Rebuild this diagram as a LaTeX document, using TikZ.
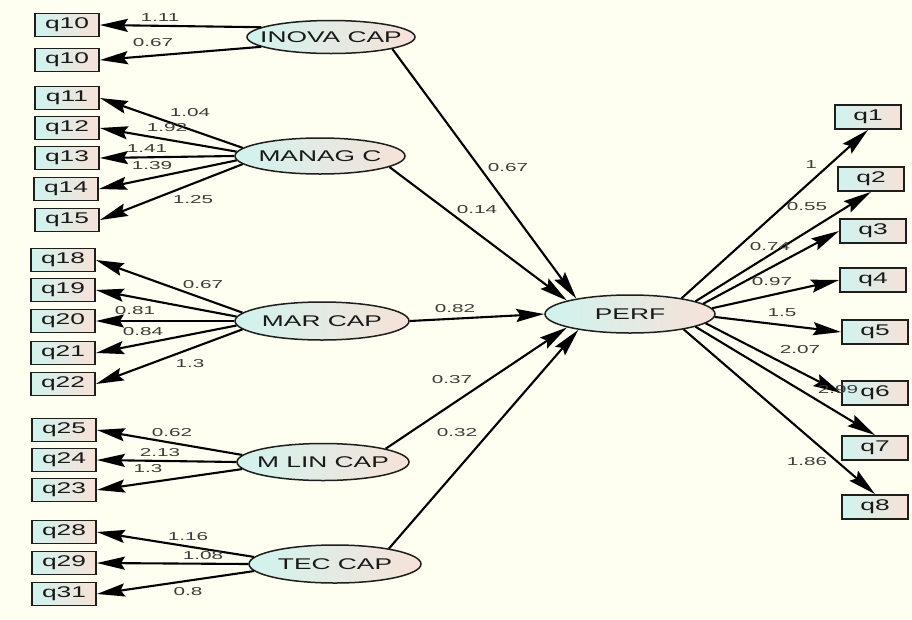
\documentclass[tikz,border=0pt]{standalone}
\usepackage{fontspec}
\usetikzlibrary{arrows.meta,shapes.geometric}
\newfontfamily\boxfont[FakeStretch=1.7]{Liberation Sans}
\newfontfamily\labfont[FakeStretch=1.8]{Liberation Sans}
\definecolor{bgcream}{RGB}{254,254,241}
\definecolor{cyanl}{RGB}{208,243,238}
\definecolor{pinkl}{RGB}{247,226,216}
\definecolor{edgec}{RGB}{30,30,30}
\definecolor{labc}{RGB}{60,60,60}
\tikzset{
  obs/.style={draw=edgec, line width=1.8pt, rectangle, left color=cyanl, right color=pinkl,
    minimum width=64pt, minimum height=23pt, inner sep=0pt, font=\boxfont\fontsize{15.5}{15.5}\selectfont, text=black!90},
  obsr/.style={obs, minimum width=66pt, minimum height=24pt},
  lat/.style={draw=edgec, line width=1.5pt, ellipse, left color=cyanl, right color=pinkl,
    inner sep=0pt, font=\boxfont\fontsize{15.5}{15.5}\selectfont, text=black!90},
  wt/.style={font=\labfont\fontsize{11.5}{11.5}\selectfont, text=labc, inner sep=0pt},
  conn/.style={line width=2.1pt, black, -{Stealth[length=28pt,width=13pt,inset=4pt]}}
}
\newcommand{\zt}[1]{\makebox[0pt][c]{#1}}
\begin{document}
\begin{tikzpicture}[x=1pt,y=-1pt]
\fill[bgcream] (0,0) rectangle (912,619);
\useasboundingbox (0,0) rectangle (912,619);

% latent variables
\node[lat, minimum width=168pt, minimum height=33pt] (inova) at (331,37) {\zt{INOVA CAP}};
\node[lat, minimum width=170pt, minimum height=36pt] (manag) at (320,156) {\zt{MANAG C}};
\node[lat, minimum width=174pt, minimum height=38pt] (mar) at (322,321) {\zt{MAR CAP}};
\node[lat, minimum width=172pt, minimum height=37pt] (mlin) at (323,462) {\zt{M LIN CAP}};
\node[lat, minimum width=172pt, minimum height=38pt] (tec) at (335,564) {\zt{TEC CAP}};
\node[lat, minimum width=170pt, minimum height=38pt] (perf) at (630,314) {\zt{PERF}};

% left observed
\node[obs] (q10a) at (67,25) {q10};
\node[obs] (q10b) at (67,60) {q10};
\node[obs] (q11) at (67,98) {q11};
\node[obs] (q12) at (67,128) {q12};
\node[obs] (q13) at (67,158) {q13};
\node[obs] (q14) at (66,189) {q14};
\node[obs] (q15) at (67,220) {q15};
\node[obs] (q18) at (63,260) {q18};
\node[obs] (q19) at (63,290) {q19};
\node[obs] (q20) at (63,321) {q20};
\node[obs] (q21) at (63,353) {q21};
\node[obs] (q22) at (63,384) {q22};
\node[obs] (q25) at (64,430) {q25};
\node[obs] (q24) at (64,460) {q24};
\node[obs] (q23) at (64,490) {q23};
\node[obs] (q28) at (64,532) {q28};
\node[obs] (q29) at (64,563) {q29};
\node[obs] (q31) at (64,594) {q31};

% right observed
\node[obsr] (q1) at (868,117) {q1};
\node[obsr] (q2) at (871,179) {q2};
\node[obsr] (q3) at (873,231) {q3};
\node[obsr] (q4) at (873,280) {q4};
\node[obsr] (q5) at (875,332) {q5};
\node[obsr] (q6) at (875,393) {q6};
\node[obsr] (q7) at (875,448) {q7};
\node[obsr] (q8) at (875,507) {q8};

% loadings left
\draw[conn] (inova.172) -- (q10a.east);
\draw[conn] (inova.188) -- (q10b.east);
\draw[conn] (manag.174) -- (q11.east);
\draw[conn] (manag.177) -- (q12.east);
\draw[conn] (manag.180) -- (q13.east);
\draw[conn] (manag.183) -- (q14.east);
\draw[conn] (manag.186) -- (q15.east);
\draw[conn] (mar.174) -- (q18.east);
\draw[conn] (mar.177) -- (q19.east);
\draw[conn] (mar.180) -- (q20.east);
\draw[conn] (mar.183) -- (q21.east);
\draw[conn] (mar.186) -- (q22.east);
\draw[conn] (mlin.175) -- (q25.east);
\draw[conn] (mlin.180) -- (q24.east);
\draw[conn] (mlin.185) -- (q23.east);
\draw[conn] (tec.175) -- (q28.east);
\draw[conn] (tec.180) -- (q29.east);
\draw[conn] (tec.185) -- (q31.east);

% structural paths
\draw[conn] (inova.-11) -- (perf.164);
\draw[conn] (manag.-9) -- (perf.168);
\draw[conn] (mar.east) -- (perf.west);
\draw[conn] (mlin.12) -- (perf.192);
\draw[conn] (tec.16) -- (perf.197);

% loadings right
\draw[conn] (perf.17) -- (q1.south);
\draw[conn] (perf.11.5) -- (q2.south);
\draw[conn] (perf.8.5) -- (q3.west);
\draw[conn] (perf.4.5) -- (q4.west);
\draw[conn] (perf.-2.5) -- (q5.west);
\draw[conn] (perf.-7) -- (q6.west);
\draw[conn] (perf.-11.5) -- (q7.north);
\draw[conn] (perf.-16) -- (q8.north);

% weights
\node[wt] (w1) at (160,18) {1.11};
\node[wt] (w2) at (153,43) {0.67};
\node[wt] (w3) at (190,113) {1.04};
\node[wt] (w4) at (167,128) {1.92};
\node[wt] (w5) at (147,149) {1.41};
\node[wt] (w6) at (152,166) {1.39};
\node[wt] (w7) at (193,200) {1.25};
\node[wt] (w8) at (203,285) {0.67};
\node[wt] (w9) at (135,311) {0.81};
\node[wt] (w10) at (143,332) {0.84};
\node[wt] (w11) at (190,364) {1.3};
\node[wt] (w12) at (172,433) {0.62};
\node[wt] (w13) at (160,453) {2.13};
\node[wt] (w14) at (148,469) {1.3};
\node[wt] (w15) at (188,537) {1.16};
\node[wt] (w16) at (203,556) {1.08};
\node[wt] (w17) at (188,592) {0.8};
\node[wt] (s1) at (508,168) {0.67};
\node[wt] (s2) at (477,210) {0.14};
\node[wt] (s3) at (455,309) {0.82};
\node[wt] (s4) at (452,380) {0.37};
\node[wt] (s5) at (457,433) {0.32};
\node[wt] (r1) at (811,165) {1};
\node[wt] (r2) at (807,207) {0.55};
\node[wt] (r3) at (770,247) {0.74};
\node[wt] (r4) at (772,282) {0.97};
\node[wt] (r5) at (782,313) {1.5};
\node[wt] (r6) at (800,350) {2.07};
\node[wt] (r7) at (838,390) {2.99};
\node[wt] (r8) at (807,462) {1.86};
\end{tikzpicture}
\end{document}
